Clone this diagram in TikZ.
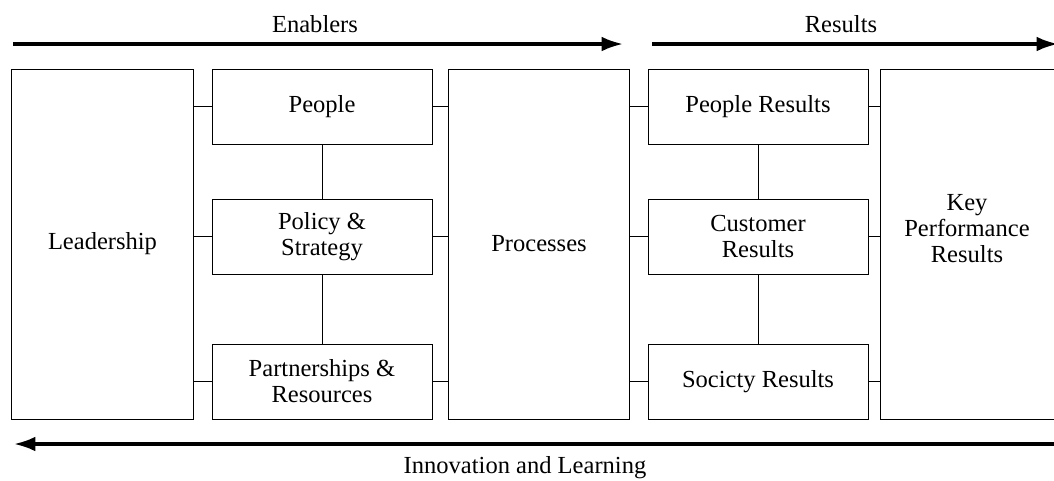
\documentclass[tikz,border=0pt]{standalone}
\usepackage{fontspec}
\setmainfont{Liberation Serif}
\usetikzlibrary{arrows.meta}

\begin{document}
\begin{tikzpicture}[x=0.75pt,y=0.75pt,yscale=-1,xscale=1,
  box/.style={draw, line width=0.75pt, rectangle, inner sep=0pt, align=center, font=\fontsize{18.4}{19.5}\selectfont},
  bigbox/.style={box, minimum width=136pt, minimum height=262.5pt},
  smallbox/.style={box, minimum width=165pt, minimum height=56.25pt},
  link/.style={line width=0.75pt},
  flow/.style={line width=2.4pt, -{Latex[length=16pt,width=11pt]}},
  caption/.style={anchor=base, inner sep=0pt, font=\fontsize{18.4}{19.5}\selectfont}]
\useasboundingbox (0,0) rectangle (1054,480);

%Enabler boxes
\node [bigbox] (lead) at (102.5,244) {Leadership};
\node [smallbox] (pe) at (322,106.5) {People};
\node [smallbox] (ps) at (322,236.5) {Policy \&\\Strategy};
\node [smallbox] (pr) at (322,381.5) {Partnerships \&\\Resources};
\node [bigbox] (proc) at (539,244) {Processes};

%Result boxes
\node [smallbox] (rpe) at (758,106.5) {People Results};
\node [smallbox] (rcu) at (758,236.5) {Customer\\Results};
\node [smallbox] (rso) at (758,381.5) {Socicty Results};
\node [box, minimum width=132pt, minimum height=262.5pt] (kpr) at (968,244) {};
\node [caption, anchor=center, align=center] (kprtext) at (967,229) {Key\\Performance\\Results};

%Links
\foreach \n in {pe,ps,pr}{
  \draw [link] (\n.west) -- (\n.west -| lead.east);
  \draw [link] (\n.east) -- (\n.east -| proc.west);
}
\foreach \n in {rpe,rcu,rso}{
  \draw [link] (\n.west) -- (\n.west -| proc.east);
  \draw [link] (\n.east) -- (\n.east -| kpr.west);
}
\draw [link] (pe.south) -- (ps.north);
\draw [link] (ps.south) -- (pr.north);
\draw [link] (rpe.south) -- (rcu.north);
\draw [link] (rcu.south) -- (rso.north);

%Flow arrows
\coordinate (ena) at (13,44);
\coordinate (enb) at (623,44);
\coordinate (rea) at (652,44);
\coordinate (reb) at (1058,44);
\coordinate (ila) at (1060,444);
\coordinate (ilb) at (14,444);
\draw [flow] (ena) -- (enb);
\draw [flow] (rea) -- (reb);
\draw [flow] (ila) -- (ilb);

% Text Node
\node [caption] (entext) at (315,32) {Enablers};
% Text Node
\node [caption] (retext) at (841,32) {Results};
% Text Node
\node [caption] (iltext) at (525,473) {Innovation and Learning};

\end{tikzpicture}
\end{document}
